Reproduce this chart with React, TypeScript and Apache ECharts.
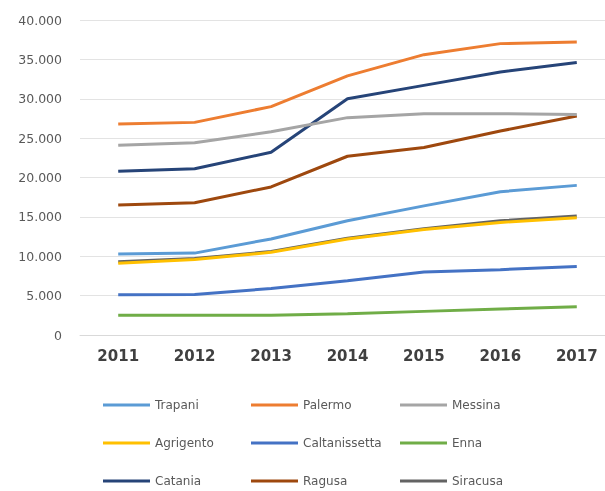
import React, { useEffect, useRef } from "react";
import * as echarts from "echarts";

const years = ["2011", "2012", "2013", "2014", "2015", "2016", "2017"];
const seriesNames = ["Trapani", "Palermo", "Messina", "Agrigento", "Caltanissetta", "Enna", "Catania", "Ragusa", "Siracusa"];
const colors = ["#5B9BD5", "#ED7D31", "#A5A5A5", "#FFC000", "#4472C4", "#70AD47", "#264478", "#9E480E", "#636363"];

const trapani = [10300, 10400, 12200, 14500, 16400, 18200, 19000];
const palermo = [26800, 27000, 29000, 32900, 35600, 37000, 37200];
const messina = [24100, 24400, 25800, 27600, 28100, 28100, 28000];
const agrigento = [9100, 9600, 10500, 12200, 13400, 14300, 14900];
const caltanissetta = [5100, 5150, 5900, 6900, 8000, 8300, 8700];
const enna = [2500, 2500, 2500, 2700, 3000, 3300, 3600];
const catania = [20800, 21100, 23200, 30000, 31700, 33400, 34600];
const ragusa = [16500, 16800, 18800, 22700, 23800, 25900, 27800];
const siracusa = [9300, 9700, 10600, 12300, 13500, 14500, 15100];

const allData = [trapani, palermo, messina, agrigento, caltanissetta, enna, catania, ragusa, siracusa];

const legendColumns = [
  ["Trapani", "Agrigento", "Catania"],
  ["Palermo", "Caltanissetta", "Ragusa"],
  ["Messina", "Enna", "Siracusa"],
];
const legendLefts = [103, 251, 400];

export default function App() {
  const ref = useRef<HTMLDivElement>(null);
  useEffect(() => {
    if (!ref.current) return;
    const chart = echarts.init(ref.current, null, { renderer: "svg" });
    const fontFamily = "DejaVu Sans, sans-serif";
    chart.setOption({
      animation: false,
      color: colors,
      grid: { left: 80, right: 0, top: 20, bottom: 156, containLabel: false },
      xAxis: {
        type: "category",
        data: years,
        boundaryGap: true,
        axisLine: { show: true, lineStyle: { color: "#d9d9d9", width: 1 } },
        axisTick: { show: false },
        axisLabel: { color: "#404040", fontSize: 15, fontWeight: "bold", fontFamily, margin: 13 },
      },
      yAxis: {
        type: "value",
        min: 0,
        max: 40000,
        interval: 5000,
        axisLine: { show: false },
        axisTick: { show: false },
        splitLine: { lineStyle: { color: "#e3e3e3", width: 1 } },
        axisLabel: {
          color: "#595959",
          fontSize: 12.5,
          fontFamily,
          margin: 18,
          formatter: (v: number) => (v === 0 ? "0" : v.toString().replace(/\B(?=(\d{3})+(?!\d))/g, ".")),
        },
      },
      legend: legendColumns.map((col, i) => ({
        orient: "vertical",
        left: legendLefts[i],
        top: 398,
        height: 93,
        padding: 0,
        data: col,
        icon: "rect",
        itemWidth: 47,
        itemHeight: 3,
        itemGap: 24,
        textStyle: { color: "#595959", fontSize: 12, fontFamily, lineHeight: 14 },
      })),
      series: seriesNames.map((name, i) => ({
        name,
        type: "line",
        data: allData[i],
        symbol: "none",
        lineStyle: { width: 3, color: colors[i] },
        itemStyle: { color: colors[i] },
        z: 2 + (seriesNames.length - i),
      })),
    });
    return () => chart.dispose();
  }, []);
  return (
    <div style={{ position: "fixed", left: 0, top: 0, width: 605, height: 491, overflow: "hidden" }}>
      <div ref={ref} style={{ width: 615, height: 491 }} />
    </div>
  );
}
